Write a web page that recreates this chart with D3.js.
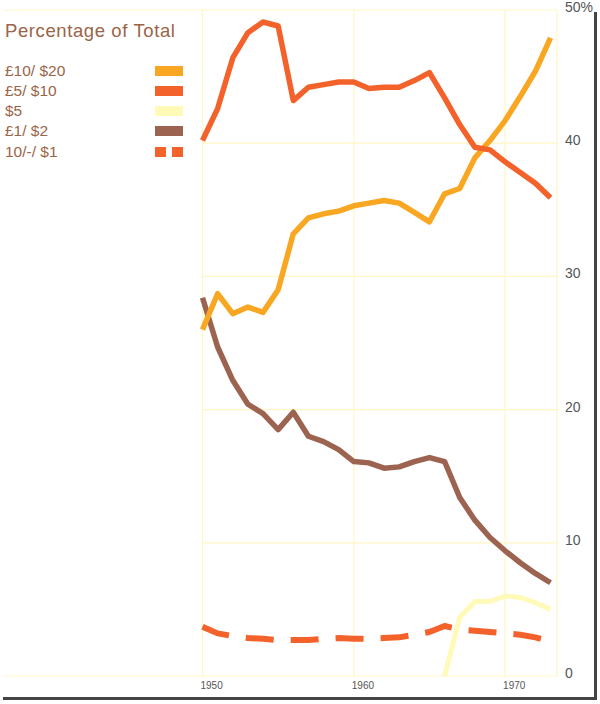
<!DOCTYPE html>
<html>
<head>
<meta charset="utf-8">
<script src="https://cdn.jsdelivr.net/npm/d3@7"></script>
<style>
  body { margin: 0; background: #fff; }
  svg { display: block; }
</style>
</head>
<body>
<svg id="chart"></svg>
<script>
// data, percent of total notes in circulation
const years = d3.range(1950, 1974);

const notes20 = [26.0, 28.7, 27.2, 27.7, 27.3, 29.0, 33.2, 34.4, 34.7, 34.9, 35.3, 35.5,
	35.7, 35.5, 34.8, 34.1, 36.2, 36.6, 38.9, 40.2, 41.7, 43.5, 45.4, 47.9];
const notes10 = [40.2, 42.6, 46.4, 48.3, 49.1, 48.8, 43.2, 44.2, 44.4, 44.6, 44.6, 44.1,
	44.2, 44.2, 44.7, 45.3, 43.4, 41.4, 39.7, 39.5, 38.6, 37.8, 37.0, 35.9];
const notes5Years = [1966, 1967, 1968, 1969, 1970, 1971, 1972, 1973];
const notes5 = [0, 4.4, 5.6, 5.6, 6.0, 5.9, 5.5, 5.0];
const notes2 = [28.4, 24.7, 22.2, 20.4, 19.7, 18.5, 19.8, 18.0, 17.6, 17.0, 16.1, 16.0,
	15.6, 15.7, 16.1, 16.4, 16.1, 13.4, 11.7, 10.4, 9.4, 8.5, 7.7, 7.0];
const notes1 = [3.7, 3.2, 3.0, 2.85, 2.8, 2.7, 2.7, 2.7, 2.8, 2.85, 2.8, 2.8,
	2.85, 2.9, 3.1, 3.3, 3.75, 3.5, 3.4, 3.3, 3.2, 3.1, 2.9, 2.6];

const seriesNames = ['£10/ $20', '£5/ $10', '$5', '£1/ $2', '10/-/ $1'];
const seriesColors = ['#f9a722', '#f4622b', '#fffab8', '#9c6450', '#f4622b'];

const yTicks = [0, 10, 20, 30, 40, 50];
const yTickLabels = ['0', '10', '20', '30', '40', '50%'];
const xTicks = [1950, 1960, 1970];

const width = 600;
const height = 704;

const svg = d3.select('#chart')
	.attr('width', width)
	.attr('height', height)
	.style('font-family', '"Liberation Sans", Arial, sans-serif');

const x = d3.scaleLinear().domain([1950, 1973]).range([202.5, 550.5]);
const y = d3.scaleLinear().domain([0, 50]).range([676, 10]);
const gridRight = 557;
const gridColor = '#fff6c4';

// grid
const grid = svg.append('g').attr('stroke', gridColor).attr('stroke-width', 1.2);
grid.selectAll('line.h')
	.data(yTicks)
	.join('line')
	.attr('class', 'h')
	.attr('x1', (d) => (d === 0 || d === 50 ? 5 : x(1950)))
	.attr('x2', gridRight)
	.attr('y1', (d) => y(d))
	.attr('y2', (d) => y(d));
grid.selectAll('line.v')
	.data(xTicks)
	.join('line')
	.attr('class', 'v')
	.attr('x1', (d) => x(d))
	.attr('x2', (d) => x(d))
	.attr('y1', y(50))
	.attr('y2', y(0));
grid.append('line')
	.attr('x1', gridRight).attr('x2', gridRight)
	.attr('y1', y(50)).attr('y2', y(0));

// right axis labels
svg.append('g')
	.attr('fill', '#555')
	.attr('font-size', 14)
	.selectAll('text')
	.data(yTicks)
	.join('text')
	.attr('x', 565)
	.attr('y', (d) => y(d) + 2)
	.text((d, i) => yTickLabels[i]);

// year labels
svg.append('g')
	.attr('fill', '#555')
	.attr('font-size', 10)
	.selectAll('text')
	.data(xTicks)
	.join('text')
	.attr('x', (d) => x(d) - 2)
	.attr('y', 689)
	.text((d) => d);

// lines
const line = d3.line()
	.x((d) => x(d[0]))
	.y((d) => y(d[1]));

const series = [
	{ pts: d3.zip(years, notes1), color: seriesColors[4], dash: '28,17', w: 6 },
	{ pts: d3.zip(notes5Years, notes5), color: seriesColors[2], dash: null, w: 5 },
	{ pts: d3.zip(years, notes2), color: seriesColors[3], dash: null, w: 5.5 },
	{ pts: d3.zip(years, notes20), color: seriesColors[0], dash: null, w: 5.5 },
	{ pts: d3.zip(years, notes10), color: seriesColors[1], dash: null, w: 5.5 },
];

svg.append('g')
	.attr('fill', 'none')
	.attr('stroke-linejoin', 'round')
	.selectAll('path')
	.data(series)
	.join('path')
	.attr('stroke', (d) => d.color)
	.attr('stroke-width', (d) => d.w)
	.attr('stroke-dasharray', (d) => d.dash)
	.attr('d', (d) => line(d.pts));

// legend
svg.append('text')
	.attr('x', 5)
	.attr('y', 37)
	.attr('font-size', 18.5)
	.attr('letter-spacing', 0.6)
	.attr('fill', '#9a6448')
	.text('Percentage of Total');

const legendY = [76, 96, 116, 136, 157];
const legend = svg.append('g');
legend.selectAll('text')
	.data(seriesNames)
	.join('text')
	.attr('x', 5)
	.attr('y', (d, i) => legendY[i])
	.attr('font-size', 15.5)
	.attr('fill', '#9a6448')
	.text((d) => d);
legend.selectAll('rect')
	.data(seriesNames.slice(0, 4))
	.join('rect')
	.attr('x', 155)
	.attr('y', (d, i) => legendY[i] - 10)
	.attr('width', 28)
	.attr('height', 10)
	.attr('fill', (d, i) => seriesColors[i]);
legend.selectAll('rect.dash')
	.data([155, 172])
	.join('rect')
	.attr('class', 'dash')
	.attr('x', (d) => d)
	.attr('y', legendY[4] - 10)
	.attr('width', 11)
	.attr('height', 10)
	.attr('fill', seriesColors[4]);

// frame edges
svg.append('rect').attr('x', 594).attr('y', 12).attr('width', 3).attr('height', 688).attr('fill', '#444');
svg.append('rect').attr('x', 3).attr('y', 697).attr('width', 594).attr('height', 3).attr('fill', '#444');
</script>
</body>
</html>
